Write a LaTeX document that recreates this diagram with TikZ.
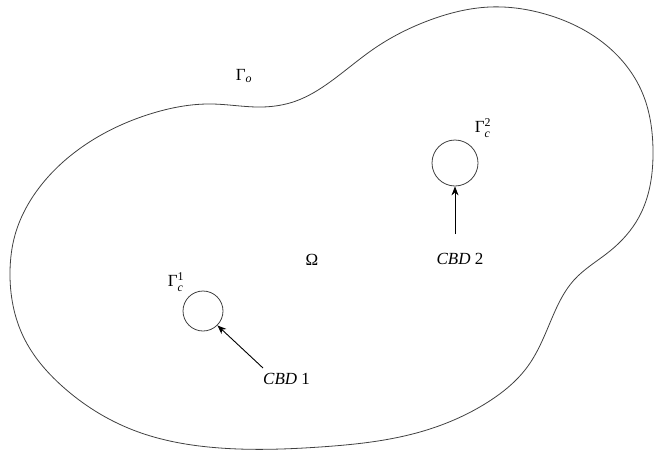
\documentclass[tikz,border=0pt]{standalone}
\usepackage{amsmath}
\usepackage{fontspec}
\setmainfont{Liberation Serif}
\usetikzlibrary{arrows.meta,hobby}
\tikzset{
  outline/.style={draw=black!75, line width=0.8pt},
  hole/.style={circle, draw=black!75, line width=0.8pt, inner sep=0pt},
  lbl/.style={inner sep=1pt, font=\fontsize{17}{20}\selectfont},
  pointer/.style={draw=black, line width=0.9pt, -{Stealth[length=9pt,width=7pt]}},
}
\begin{document}
\begin{tikzpicture}[x=1pt,y=-1pt]
\useasboundingbox (0,0) rectangle (656,453);
% outer boundary
\draw[outline, use Hobby shortcut, closed=true]
  (10,272) .. (24,338) .. (62,386) .. (133,430) .. (220,448) .. (320,447)
  .. (420,432) .. (488,402) .. (528,366) .. (552,318) .. (574,280)
  .. (610,251) .. (639,217) .. (653,150) .. (642,92) .. (606,45)
  .. (545,14) .. (490,7) .. (430,20) .. (375,48) .. (330,82) .. (296,101)
  .. (262,107) .. (212,104) .. (150,114) .. (82,147) .. (36,192) .. (15,235);
% holes
\node[hole, minimum size=46pt] (c2) at (455,163) {};
\node[hole, minimum size=40pt] (c1) at (203,311) {};
% labels
\node[lbl] (go) at (244,76) {$\text{Γ}_{\textit{o}}$};
\node[lbl] (g2) at (483,128) {$\text{Γ}_{\textit{c}}^{\text{2}}$};
\node[lbl] (g1) at (176,282) {$\text{Γ}_{\textit{c}}^{\text{1}}$};
\node[lbl] (om) at (312,260) {Ω};
\node[lbl, anchor=west] (cbd1) at (262,379) {\textit{CBD} 1};
\node[lbl] (cbd2) at (460,259) {\textit{CBD} 2};
% pointers
\coordinate (t1) at (263,368);
\coordinate (t2) at (455,234);
\draw[pointer] (t1) -- (c1.-45);
\draw[pointer] (t2) -- (c2.south);
\end{tikzpicture}
\end{document}
